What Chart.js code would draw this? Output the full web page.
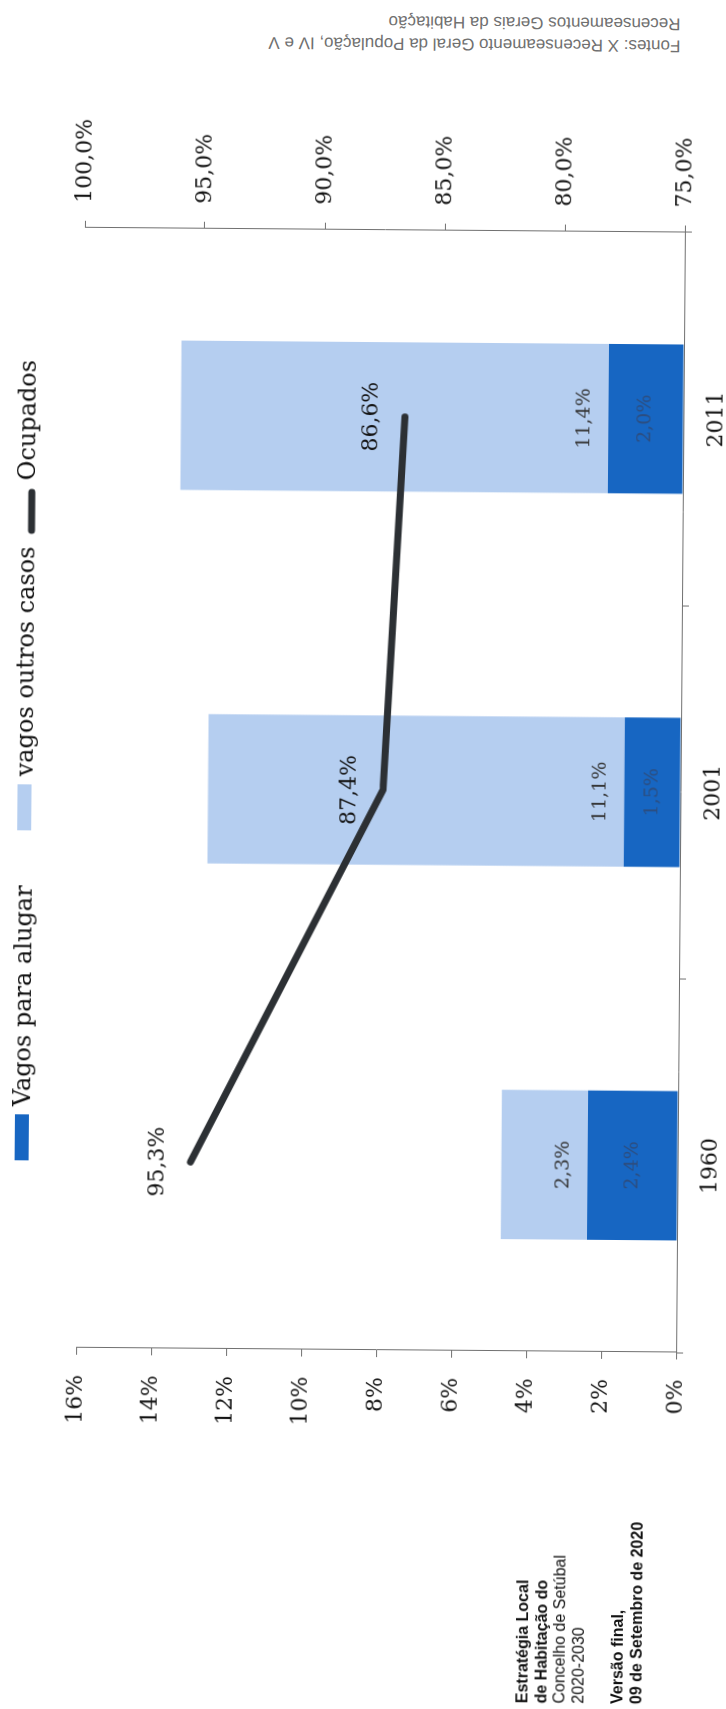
<!DOCTYPE html>
<html lang="pt">
<head>
<meta charset="utf-8">
<title>Alojamentos ocupados e vagos</title>
<script src="https://cdn.jsdelivr.net/npm/chart.js@4.4.1/dist/chart.umd.min.js"></script>
<style>
  html, body { margin: 0; padding: 0; background: #fff; }
  body { width: 726px; height: 1709px; overflow: hidden; position: relative; }
  /* the printed page sits very slightly skewed */
  #pagina { position: absolute; left: 0; top: 0; width: 726px; height: 1709px;
            transform-origin: 363px 855px; transform: rotate(0.45deg); }
  #fontes { position: absolute; left: 262px; top: 10px; width: 412px; height: 44px;
            font: 17px "Liberation Sans", Arial, sans-serif;
            line-height: 22px; color: #707070; white-space: nowrap;
            transform: rotate(180deg); }
  /* landscape sheet turned onto the portrait page */
  #folha { position: absolute; left: 0; top: 0; width: 1709px; height: 726px;
           transform-origin: 0 0; transform: translateY(1709px) rotate(-90deg); }
  #grafico { position: absolute; left: 0; top: 0; }
  #rodape { position: absolute; left: 7px; top: 520px; color: #111;
            font: 16px "Liberation Sans", Arial, sans-serif; line-height: 18.5px; }
  #rodape b { font-weight: bold; }
  #rodape .esp { height: 21px; }
</style>
</head>
<body>
<div id="pagina">
  <div id="fontes">Fontes: X Recenseamento Geral da População, IV e V<br>Recenseamentos Gerais da Habitação</div>
  <div id="folha">
    <canvas id="grafico" width="1709" height="726"></canvas>
    <div id="rodape">
      <b>Estratégia Local</b><br>
      <b>de Habitação do</b><br>
      Concelho de Setúbal<br>
      2020-2030
      <div class="esp"></div>
      <b>Versão final,</b><br>
      <b>09 de Setembro de 2020</b>
    </div>
  </div>
</div>

<script>
// dados dos recenseamentos
const anos = ['1960', '2001', '2011'];
const vagosAlugar = [2.4, 1.5, 2.0];
const vagosOutros = [2.3, 11.1, 11.4];
const ocupados = [95.3, 87.4, 86.6];
const nomesSeries = ['Vagos para alugar', 'vagos outros casos', 'Ocupados'];

const AZUL = '#1766c2';
const AZUL_CLARO = '#b5cef0';
const LINHA = '#2c3034';
const EIXO = '#707070';
const TEXTO = '#141414';
const SERIF = '"DejaVu Serif", Georgia, serif';

const fmt = v => v.toFixed(1).replace('.', ',') + '%';

// percent labels on the bars and on the line
const rotulos = {
  id: 'rotulos',
  afterDatasetsDraw(chart) {
    const ctx = chart.ctx;
    ctx.save();
    ctx.textAlign = 'center';
    ctx.textBaseline = 'middle';
    ctx.font = '19px ' + SERIF;
    chart.getDatasetMeta(0).data.forEach((bar, i) => {
      ctx.fillStyle = '#2d4d7e';
      ctx.fillText(fmt(vagosAlugar[i]), bar.x, (bar.y + bar.base) / 2);
    });
    chart.getDatasetMeta(1).data.forEach((bar, i) => {
      ctx.fillStyle = '#333';
      ctx.fillText(fmt(vagosOutros[i]), bar.x, bar.base - 24);
    });
    ctx.font = '22px ' + SERIF;
    chart.getDatasetMeta(2).data.forEach((pt, i) => {
      ctx.fillStyle = TEXTO;
      ctx.fillText(fmt(ocupados[i]), pt.x, pt.y - 33);
    });
    ctx.restore();
  }
};

// legend strip across the top
const legenda = {
  id: 'legenda',
  afterDraw(chart, args, opts) {
    const ctx = chart.ctx;
    ctx.save();
    ctx.font = '24px ' + SERIF;
    ctx.textBaseline = 'alphabetic';
    chart.data.datasets.forEach((ds, i) => {
      const x = opts.inicio[i];
      if (ds.type === 'line') {
        ctx.strokeStyle = ds.borderColor;
        ctx.lineWidth = 7;
        ctx.lineCap = 'round';
        ctx.beginPath();
        ctx.moveTo(x + 4, 29);
        ctx.lineTo(x + 42, 29);
        ctx.stroke();
      } else {
        ctx.fillStyle = ds.backgroundColor;
        ctx.fillRect(x, 17, 46, 14);
      }
      ctx.fillStyle = '#111';
      ctx.fillText(ds.label, x + 54, 32);
    });
    ctx.restore();
  }
};

new Chart(document.getElementById('grafico'), {
  type: 'bar',
  data: {
    labels: anos,
    datasets: [{
      label: nomesSeries[0],
      data: vagosAlugar,
      backgroundColor: AZUL,
      yAxisID: 'y',
      order: 1,
      categoryPercentage: 0.8,
      barPercentage: 0.5
    }, {
      label: nomesSeries[1],
      data: vagosOutros,
      backgroundColor: AZUL_CLARO,
      yAxisID: 'y',
      order: 1,
      categoryPercentage: 0.8,
      barPercentage: 0.5
    }, {
      type: 'line',
      label: nomesSeries[2],
      data: ocupados,
      borderColor: LINHA,
      backgroundColor: LINHA,
      borderWidth: 7,
      borderCapStyle: 'round',
      borderJoinStyle: 'round',
      pointRadius: 0,
      tension: 0,
      yAxisID: 'y1',
      order: 0
    }]
  },
  options: {
    responsive: false,
    animation: false,
    layout: { padding: { top: 80, left: 0, right: 0, bottom: 0 } },
    plugins: {
      legend: { display: false },
      tooltip: { enabled: false },
      legenda: { inicio: [546, 876, 1172] }
    },
    scales: {
      x: {
        stacked: true,
        grid: { drawOnChartArea: false, tickLength: 7, color: EIXO, offset: true },
        border: { color: EIXO, width: 1 },
        ticks: { color: TEXTO, font: { family: SERIF, size: 22 }, padding: 13 },
        afterFit: s => { s.height = 46; }
      },
      y: {
        stacked: true,
        position: 'left',
        min: 0,
        max: 16,
        grid: { drawOnChartArea: false, tickLength: 7, color: EIXO },
        border: { color: EIXO, width: 1 },
        ticks: { stepSize: 2, color: TEXTO, font: { family: SERIF, size: 22 }, padding: 20,
                 callback: v => v + '%' },
        afterFit: s => { s.width = 359; }
      },
      y1: {
        position: 'right',
        min: 75,
        max: 100,
        grid: { drawOnChartArea: false, tickLength: 7, color: EIXO },
        border: { color: EIXO, width: 1 },
        ticks: { stepSize: 5, color: TEXTO, font: { family: SERIF, size: 22 }, padding: 18,
                 callback: v => fmt(v) },
        afterFit: s => { s.width = 230; }
      }
    }
  },
  plugins: [rotulos, legenda]
});
</script>
</body>
</html>
